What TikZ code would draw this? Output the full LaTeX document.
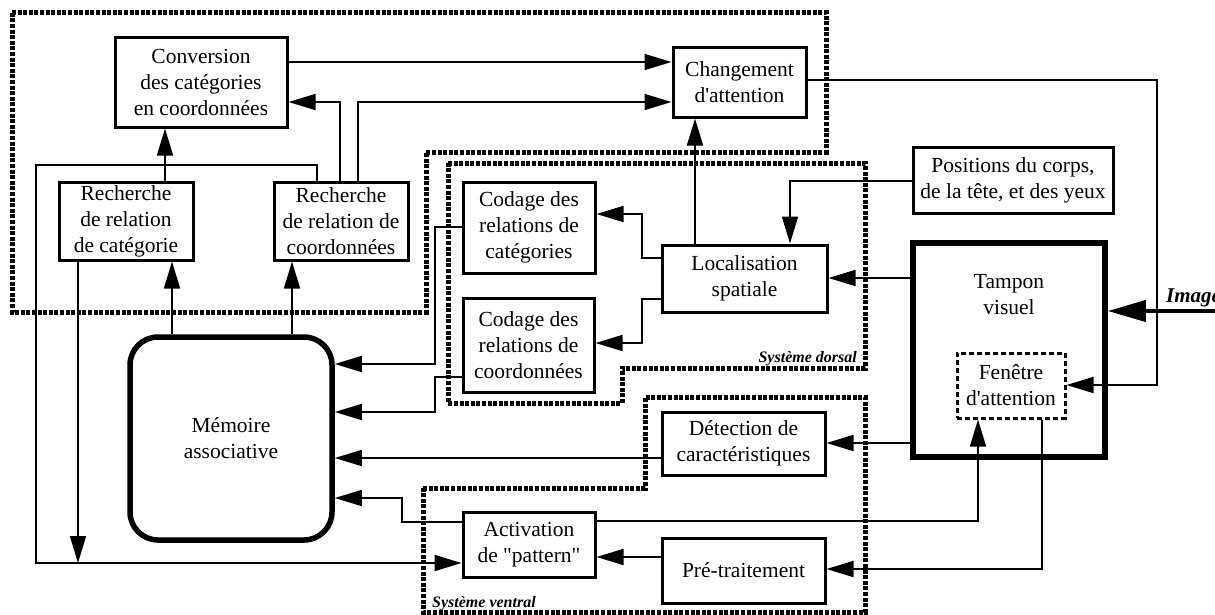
\documentclass[tikz,border=0pt]{standalone}
\usepackage{fontspec}
\setmainfont{Liberation Serif}
\usetikzlibrary{arrows.meta}
\begin{document}
\begin{tikzpicture}[x=1pt,y=-1pt,
  box/.style={draw, line width=3pt, align=center, inner sep=0pt, font=\fontsize{21.5}{26}\selectfont},
  conn/.style={line width=1.7pt, -{Triangle[length=27pt,width=16pt]}},
  hatch/.style={line width=5pt, dash pattern=on 4pt off 1.6pt, line join=miter},
  lab/.style={font=\fontsize{16}{18}\selectfont\bfseries\itshape, inner sep=0pt}]
\useasboundingbox (0,0) rectangle (1215,614);

% system regions
\draw[hatch] (12,12) -- (826,12) -- (826,152) -- (426,152) -- (426,312) -- (12,312) -- cycle;
\draw[hatch] (448,163) -- (865,163) -- (865,368) -- (622,368) -- (622,403) -- (448,403) -- cycle;
\draw[hatch] (423,488) -- (645,488) -- (645,397) -- (865,397) -- (865,612) -- (423,612) -- cycle;
\node[lab, anchor=base east] (ldors) at (857,362) {Système dorsal};
\node[lab, anchor=base west] (lvent) at (432,607) {Système ventral};

% boxes
\node[box, minimum width=172pt, minimum height=90pt] (conv) at (201,82) {Conversion\\des catégories\\en coordonnées};
\node[box, minimum width=133pt, minimum height=70pt] (chg) at (739.5,82) {Changement\\d\textquotesingle attention};
\node[box, minimum width=134pt, minimum height=78pt] (rcat) at (126,221) {Recherche\\de relation\\de catégorie};
\node[box, minimum width=134pt, minimum height=78pt] (rcoo) at (341,221) {Recherche\\de relation de\\coordonnées};
\node[box, minimum width=132pt, minimum height=91pt] (ccat) at (529,227.5) {Codage des\\relations de\\catégories};
\node[box, minimum width=131pt, minimum height=94pt] (ccoo) at (528.5,345) {Codage des\\relations de\\coordonnées};
\node[box, minimum width=165pt, minimum height=67pt] (loc) at (744.5,278.5) {Localisation\\spatiale};
\node[box, minimum width=200pt, minimum height=66pt] (pos) at (1013,180) {Positions du corps,\\de la tête, et des yeux};
\node[box, line width=5.5pt, minimum width=192pt, minimum height=214pt] (tamp) at (1009,350) {};
\node[box, draw=none] (tampt) at (1009,295) {Tampon\\visuel};
\node[box, dash pattern=on 5pt off 3pt, minimum width=108pt, minimum height=65pt] (fen) at (1011,385.5) {Fenêtre\\d\textquotesingle attention};
\node[box, minimum width=163pt, minimum height=63pt] (det) at (743.5,443.5) {Détection de\\caractéristiques};
\node[box, minimum width=132pt, minimum height=65pt] (act) at (529,544.5) {Activation\\de \textquotedbl pattern\textquotedbl};
\node[box, minimum width=163pt, minimum height=65pt] (pre) at (743.5,570.5) {Pré-traitement};
\node[box, line width=5.5pt, rounded corners=28pt, minimum width=202pt, minimum height=203pt] (mem) at (231,438.5) {Mémoire\\associative};

% connectors
\draw[conn] (conv.east |- 0,62) -- (chg.west |- 0,62);
\draw[conn] (rcoo.north -| 340,0) |- (conv.east |- 0,102);
\draw[conn] (rcoo.north -| 358,0) |- (chg.west |- 0,102);
\draw[conn] (rcat.north -| 165,0) -- (conv.south -| 165,0);
\draw[conn] (rcoo.north -| 317,0) -- (317,165) -- (36,165) -- (36,563) -- (act.west |- 0,563);
\draw[conn] (rcat.south -| 78,0) -- (78,563);
\draw[conn] (mem.north -| 172,0) -- (rcat.south -| 172,0);
\draw[conn] (mem.north -| 292,0) -- (rcoo.south -| 292,0);
\draw[conn] (ccat.west |- 0,227) -- (435,227) -- (435,364) -- (mem.east |- 0,364);
\draw[conn] (ccoo.west |- 0,377) -- (435,377) -- (435,412) -- (mem.east |- 0,412);
\draw[conn] (det.west |- 0,458) -- (mem.east |- 0,458);
\draw[conn] (act.west |- 0,522) -- (402,522) -- (402,498) -- (mem.east |- 0,498);
\draw[conn] (act.east |- 0,521) -- (978,521) -- (fen.south -| 978,0);
\draw[conn] (pre.west |- 0,557) -- (act.east |- 0,557);
\draw[conn] (fen.south -| 1042,0) -- (1042,569) -- (pre.east |- 0,569);
\draw[conn] (tamp.west |- 0,443) -- (det.east |- 0,443);
\draw[conn] (tamp.west |- 0,278) -- (loc.east |- 0,278);
\draw[conn] (chg.east |- 0,80) -- (1157,80) -- (1157,385) -- (fen.east |- 0,385);
\draw[conn] (pos.west |- 0,181) -- (790,181) -- (loc.north -| 790,0);
\draw[conn] (loc.north -| 695,0) -- (chg.south -| 695,0);
\draw[conn] (loc.west |- 0,258) -- (642,258) -- (642,214) -- (ccat.east |- 0,214);
\draw[conn] (loc.west |- 0,299) -- (642,299) -- (642,343) -- (ccoo.east |- 0,343);

% image input
\coordinate (imgsrc) at (1215,311);
\draw[line width=4pt, -{Triangle[length=38pt,width=21pt]}] (imgsrc) -- (tamp.east |- imgsrc);
\node[lab, font=\fontsize{21}{24}\selectfont\bfseries\itshape, anchor=base west] (limg) at (1166,302) {Image};
\end{tikzpicture}
\end{document}
